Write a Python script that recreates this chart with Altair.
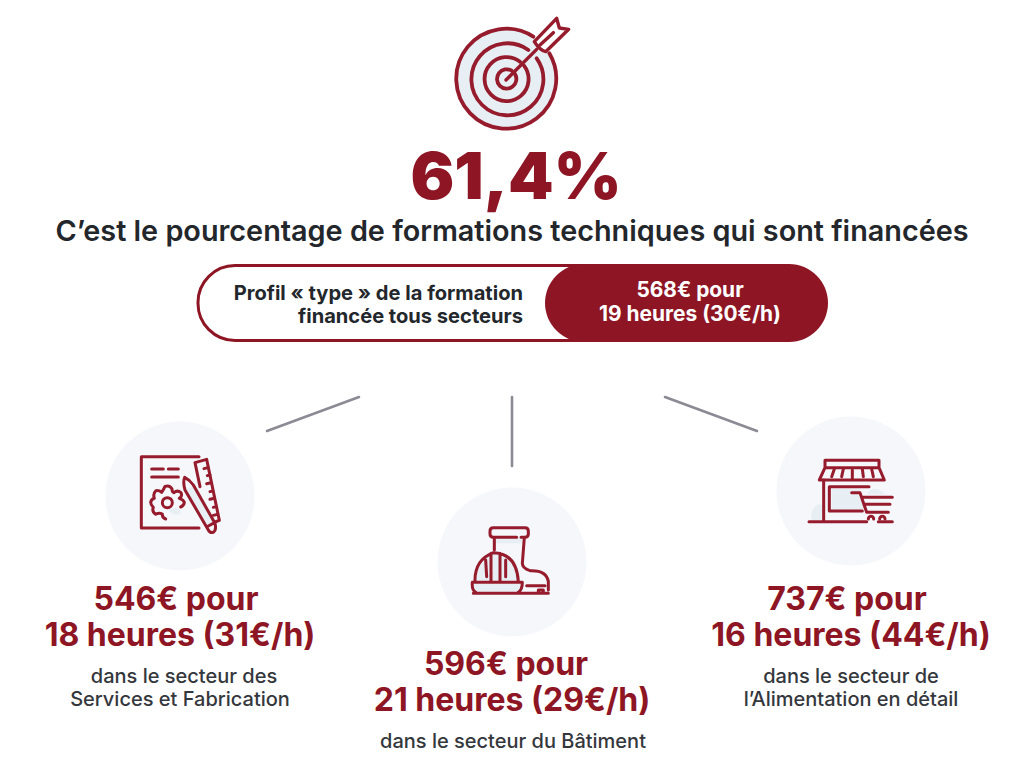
import altair as alt
import pandas as pd

# ---- values
headline = "61,4%"
subtitle = "C’est le pourcentage de formations techniques qui sont financées"
profile_label = ["Profil « type » de la formation", "financée tous secteurs"]
profile_amount, profile_hours, profile_rate = 568, 19, 30
amounts = [546, 596, 737]
hours = [18, 21, 16]
rates = [31, 29, 44]
sector_lines = [
    ["dans le secteur des", "Services et Fabrication"],
    ["dans le secteur du Bâtiment"],
    ["dans le secteur de", "l’Alimentation en détail"],
]

# ---- styles and layout
MAROON = "#8e1524"
ICON = "#961c2d"
DARK = "#23272c"
BODY = "#34373c"
GREY = "#8b8b96"
DISC = "#f5f7fb"
PALE = "#e7eef4"
FONT = "Inter"

X = alt.Scale(domain=[8, 1016], range=[0, 1008])
Y = alt.Scale(domain=[8, 756], range=[0, 748])


def xy(**kw):
    return dict(x=alt.X("x:Q", scale=X, axis=None), y=alt.Y("y:Q", scale=Y, axis=None), **kw)


def text(s, x, y, size, color, weight=700, align="center"):
    return alt.Chart(pd.DataFrame({"x": [x], "y": [y], "t": [s]})).mark_text(
        font=FONT, fontSize=size, fontWeight=weight, color=color, align=align, baseline="alphabetic"
    ).encode(**xy(text="t:N"))


def rect(x0, x1, y0, y1, **style):
    d = pd.DataFrame({"x": [x0], "x2": [x1], "y": [y0], "y2": [y1]})
    return alt.Chart(d).mark_rect(**style).encode(**xy(x2="x2:Q", y2="y2:Q"))


def seg(x0, y0, x1, y1):
    d = pd.DataFrame({"x": [x0, x1], "y": [y0, y1]})
    return alt.Chart(d).mark_line(color=GREY, strokeWidth=2.6, strokeCap="round").encode(**xy())


def disc(x, y, d, color):
    return alt.Chart(pd.DataFrame({"x": [x], "y": [y]})).mark_point(
        shape="circle", size=d * d, filled=True, fill=color, opacity=1, strokeWidth=0
    ).encode(**xy())


def glyph(x, y, path, fill=None, stroke=None, width=3):
    # glyph outlines are drawn in a crop at 3x, so they are scaled back to a third
    style = dict(shape=path, size=(2 / 3) ** 2, opacity=1, strokeJoin="round", strokeCap="round")
    style["filled"] = fill is not None
    if fill is not None:
        style["fill"] = fill
    if stroke is not None:
        style["stroke"] = stroke
        style["strokeWidth"] = width
    else:
        style["strokeWidth"] = 0
    return alt.Chart(pd.DataFrame({"x": [x], "y": [y]})).mark_point(**style).encode(**xy())


layers = []

# target
T = (400, 0)
layers += [
    glyph(*T, "M170,237 A150,150 0 1,1 470,237 A150,150 0 1,1 170,237 Z", fill=PALE),
    glyph(*T, "M448,160 A150,150 0 1,1 400,110", stroke=ICON, width=3.8),
    glyph(*T, "M410,175 A108,108 0 1,1 385,150", stroke=ICON, width=3.8),
    glyph(*T, "M372,197 A66,66 0 1,1 360,185", stroke=ICON, width=3.8),
    glyph(*T, "M345,222 A29,29 0 1,1 335,212", stroke=ICON, width=3.8),
    glyph(*T, "M403,125 L470,55 L478,84 L506,88 L437,155 Q420,152 403,125 Z", fill="#ffffff", stroke=ICON, width=3.4),
    glyph(*T, "M318,240 L410,148 M420,135 L460,98", stroke=ICON, width=3.4),
]

layers += [text(headline, 516, 199, 65, MAROON, 900)]
layers += [text(subtitle, 512, 241, 28.8, DARK, 600)]

# profile pill
layers += [
    rect(198, 640, 265.5, 340.5, fill="#ffffff", stroke=MAROON, strokeWidth=3, cornerRadius=37),
    rect(545, 828, 264, 342, fill=MAROON, cornerRadius=39),
    text(profile_label[0], 523, 300, 20.1, DARK, 700, "right"),
    text(profile_label[1], 523, 323, 20.1, DARK, 700, "right"),
    text(f"{profile_amount}€ pour", 690, 297, 20.9, "#ffffff", 700),
    text(f"{profile_hours} heures ({profile_rate}€/h)", 690, 321, 20.9, "#ffffff", 700),
]

# connectors
layers += [seg(267, 431, 359, 397), seg(512, 397, 512, 466), seg(665, 397, 757, 431)]

# icon discs
layers += [disc(180, 496, 149, DISC), disc(512, 562, 149, DISC), disc(851, 491, 149, DISC)]

# document, gear, ruler and pencil
A = (100, 415)
layers += [
    glyph(*A, "M205,285 Q240,268 242,295 Q225,308 205,285 Z", fill=PALE),
    glyph(*A, "M258,225 L280,212 L345,322 L326,334 Z", fill=PALE),
    glyph(*A, "M297,125 L124,125 L124,339 L297,339", stroke=ICON),
    glyph(*A, "M155,162 H190 M205,162 H235 M155,186 H235", stroke=ICON),
    glyph(*A, "M197,312 Q186,308 187,297 Q177,292 167,298 Q155,290 160,277 Q152,270 152,262 Q154,252 163,250 Q158,236 168,227 Q178,226 185,232 Q190,225 195,214 Q210,210 216,222 Q216,232 222,233 Q232,224 243,233 Q248,244 238,250 Q250,254 253,262 Q252,272 242,276", stroke=ICON),
    glyph(*A, "M187,263 A15,15 0 1,0 217,263 A15,15 0 1,0 187,263 Z", stroke=ICON),
    glyph(*A, "M300,215 L285,143 L320,133 L358,316 L345,321", stroke=ICON),
    glyph(*A, "M324,158 L312,161 M330,180 L322,182 M333,203 L320,206 M338,228 L330,230 M343,250 L330,253 M348,275 L340,277 M352,298 L340,301", stroke=ICON),
    glyph(*A, "M325,345 L255,225 Q248,200 254,187 Q270,195 280,210 L345,325 Q350,345 340,352 Q330,355 325,345 M325,333 L345,322", stroke=ICON),
]

# boot and hard hat
B = (435, 485)
layers += [
    glyph(*B, "M180,160 H265 L264,175 H180 Z", fill=PALE),
    glyph(*B, "M122,292 Q122,240 175,205 Q245,210 250,292 Z", fill=PALE),
    glyph(*B, "M118,296 H258 Q258,315 248,320 H126 Q116,315 118,296 Z", fill=PALE),
    glyph(*B, "M245,157 H175 Q165,157 165,147 V138 Q165,128 175,128 H270 Q280,128 280,138 V147 Q280,157 270,157 H258", stroke=ICON),
    glyph(*B, "M178,158 V195 M268,158 L262,235 Q262,250 285,257 Q335,255 340,290 L340,315 M115,325 H340 M275,302 H330 M310,325 V315 H325 V325", stroke=ICON),
    glyph(*B, "M120,290 Q118,225 175,203 Q245,205 250,290 M112,292 H262 Q262,315 250,322 M112,292 Q110,315 122,322 M152,225 L155,275 M168,205 V290 M195,205 V290 M212,225 L212,275", stroke=ICON),
]

# shop and trolley
C = (775, 415)
layers += [
    glyph(*C, "M110,315 Q105,280 130,268 L142,270 V315 Z", fill=PALE),
    glyph(*C, "M170,222 H255 L270,285 H170 Z", fill=PALE),
    glyph(*C, "M275,238 Q295,205 330,238 Z", fill=PALE),
    glyph(*C, "M150,158 V136 H312 V158 M150,158 H312 L328,195 H133 Z", stroke=ICON),
    glyph(*C, "M178,162 L170,185 M205,162 L200,185 M232,165 V190 M262,162 L265,185 M290,162 L295,185", stroke=ICON),
    glyph(*C, "M146,195 V320 M102,320 H275 M310,320 H352 M282,215 H163 V288 H262", stroke=ICON),
    glyph(*C, "M230,233 H255 L275,292 H340 M262,247 H352 M268,268 H345", stroke=ICON),
    glyph(*C, "M280,312 A8,8 0 1,1 296,312 M314,312 A8,8 0 1,1 330,312", stroke=ICON),
]

# sector figures
first = [(176, 610), (506, 675), (847, 610)]
second = [(180, 646), (512, 711), (851, 646)]
small = [[(184, 683), (180, 706)], [(513, 748)], [(851, 683), (851, 706)]]
for i in range(3):
    layers.append(text(f"{amounts[i]}€ pour", *first[i], 32, MAROON, 700))
    layers.append(text(f"{hours[i]} heures ({rates[i]}€/h)", *second[i], 32, MAROON, 700))
    for line, pos in zip(sector_lines[i], small[i]):
        layers.append(text(line, *pos, 20, BODY, 500))

chart = alt.layer(*layers).properties(
    width=1008, height=748, padding=0, background="#ffffff",
    autosize=alt.AutoSizeParams(type="none"),
).configure_view(stroke=None)

chart.save("out.html", embed_options={"renderer": "svg", "actions": False})
